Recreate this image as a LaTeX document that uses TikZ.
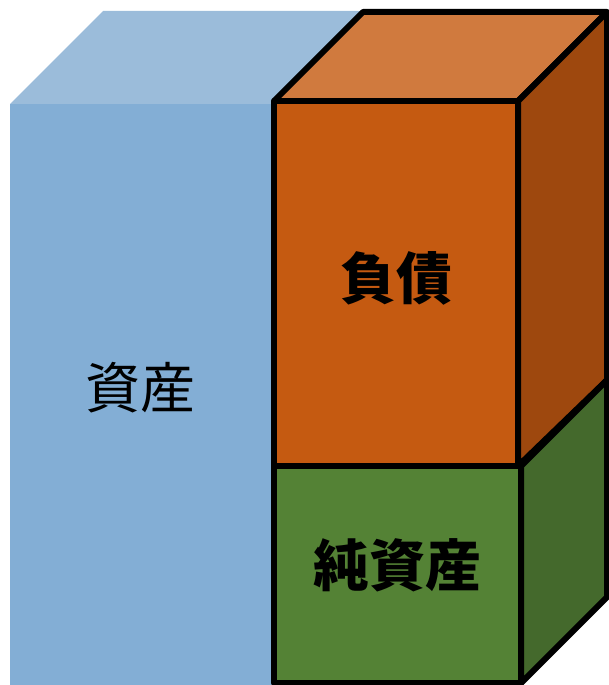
\documentclass[tikz,border=0pt]{standalone}
\usepackage{fontspec}
\newfontfamily\cjk{Noto Sans CJK JP}
\definecolor{bluefront}{HTML}{83AED5}
\definecolor{bluetop}{HTML}{9BBCDA}
\definecolor{orfront}{HTML}{C55A11}
\definecolor{ortop}{HTML}{D07A3E}
\definecolor{orside}{HTML}{9E480E}
\definecolor{grfront}{HTML}{548235}
\definecolor{grside}{HTML}{44692C}
\tikzset{
  face/.style={draw=black, line width=6pt, line join=round},
  lbl/.style={font=\cjk\fontsize{55}{62}\selectfont, inner sep=0pt},
  blbl/.style={font=\cjk\bfseries\fontsize{56}{62}\selectfont, inner sep=0pt},
}
\begin{document}
\begin{tikzpicture}[x=1pt,y=-1pt]
\useasboundingbox (0,0) rectangle (609,685);
\clip (0,0) rectangle (609,685);
% blue box (no outline)
\fill[bluetop] (10,104) -- (103,11) -- (365,11) -- (275,104) -- cycle;
\fill[bluefront] (10,104) rectangle (275,690);
% orange box
\filldraw[face, fill=ortop] (274,101) -- (363,12) -- (607,12) -- (518,101) -- cycle;
\filldraw[face, fill=orside] (518,101) -- (607,12) -- (607,380) -- (518,466) -- cycle;
\filldraw[face, fill=orfront] (274,101) rectangle (518,466);
% green box
\filldraw[face, fill=grside] (521,466) -- (607,380) -- (607,597) -- (521,683) -- cycle;
\filldraw[face, fill=grfront] (274,466) rectangle (521,683);
% labels
\node[lbl] (asset) at (140,388) {資産};
\node[blbl] (debt) at (396,278) {負債};
\node[blbl] (equity) at (397,565) {純資産};
\end{tikzpicture}
\end{document}
